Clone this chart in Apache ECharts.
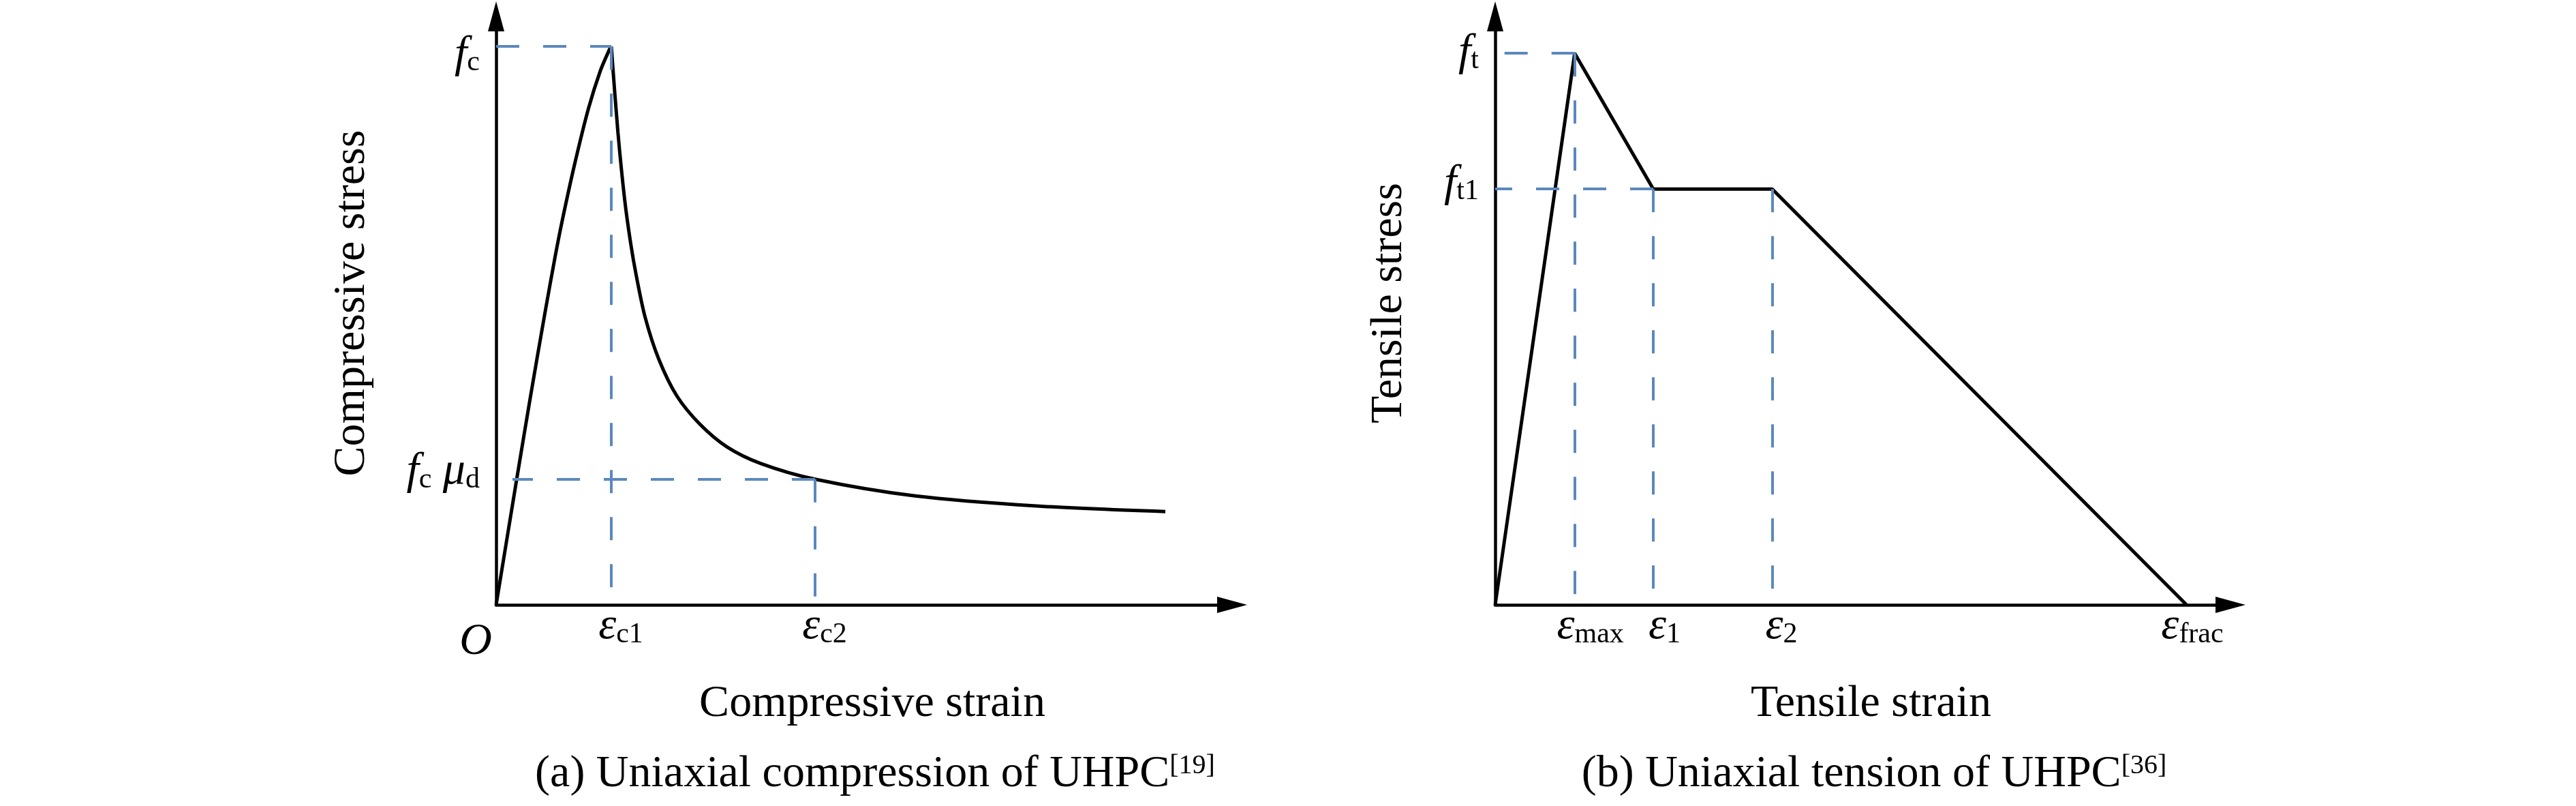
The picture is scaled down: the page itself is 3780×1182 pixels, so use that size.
<!DOCTYPE html>
<html>
<head>
<meta charset="utf-8">
<script src="https://cdn.jsdelivr.net/npm/echarts@6/dist/echarts.min.js"></script>
<style>
html,body{margin:0;padding:0;background:#ffffff;}
#chart{width:3780px;height:1182px;}
</style>
</head>
<body>
<div id="chart"></div>
<script>
// ---------------- data ----------------
// (a) compression: strain in arbitrary units, stress normalised so fc = 100
const compAscX  = [0, 3.02, 5.07, 7.14, 8.65, 9.63, 11.46, 13.53, 15.31, 16.61, 16.9];
const compAscY  = [0, 22.5, 37.5, 52.1, 62.3, 68.4, 78.6, 88.8, 95.7, 99.4, 100];
const compDescX = [16.9, 17.87, 18.87, 19.75, 20.53, 21.87, 23.87, 26.53, 29.87, 33.87, 38.87, 46.8, 61.5, 79.3, 98.2];
const compDescY = [100, 84.7, 72.5, 64.7, 59.2, 51.5, 44.0, 37.4, 32.4, 28.3, 25.3, 22.5, 19.5, 17.7, 16.7];
const compPeak = [16.9, 100];        // (eps_c1, fc)
const compResidual = [46.8, 22.5];   // (eps_c2, fc*mu_d)
const compResidualDashEndX = 2.4;
const compXMax = 108, compYMax = 105.4;
const compXTicks = [0, 16.9, 46.8];
const compXLabelParts = [[['O', '']], [['ε', 'c1']], [['ε', 'c2']]];
const compYTicks = [100, 22.5];
const compYLabelParts = [[['f', 'c']], [['f', 'c'], [' ', ''], ['μ', 'd']]];

// (b) tension: stress normalised so ft = 100
const tensX = [0, 11.67, 23.2, 40.65, 101.45];
const tensY = [0, 100, 75.4, 75.4, 0];
const tensXMax = 107.9, tensYMax = 106.7;
const tensXTicks = [0, 11.67, 23.2, 40.65, 101.45];
const tensXLabelParts = [[['O', '']], [['ε', 'max']], [['ε', '1']], [['ε', '2']], [['ε', 'frac']]];
const tensYTicks = [100, 75.4];
const tensYLabelParts = [[['f', 't']], [['f', 't1']]];

const compXName = 'Compressive strain', compYName = 'Compressive stress';
const tensXName = 'Tensile strain', tensYName = 'Tensile stress';
const compTitle = ['(a) Uniaxial compression of UHPC', '[19]'];
const tensTitle = ['(b) Uniaxial tension of UHPC', '[36]'];

// ---------------- label layout (styling only) ----------------
const compXLabelLayout = [{padR: 60, pre: 23}, {padL: 28}, {padL: 28}];
const tensXLabelLayout = [{padR: 68, pre: 23}, {padL: 46}, {padL: 33}, {padL: 27}, {padL: 17}];
const compYLabelLayout = [{pre: 26}, {post: 20}];
const tensYLabelLayout = [{}, {post: 14}];

const SERIF = '"Liberation Serif","Times New Roman",serif';
const INK = '#000000';
const DASH = '#5b88bd';

// ---------------- helpers ----------------
const zip = (xs, ys) => xs.map((x, i) => [x, ys[i]]);
const rich = {
  it: {fontFamily: SERIF, fontStyle: 'italic', fontSize: 66, lineHeight: 64, verticalAlign: 'bottom', color: INK},
  sb: {fontFamily: SERIF, fontSize: 42, lineHeight: 24, verticalAlign: 'bottom', color: INK}
};
function ensureStyle(name, extra) {
  if (!rich[name]) rich[name] = Object.assign({}, rich.it, extra);
  return name;
}
function ensureSpacer(h) {
  const n = 'sp' + h;
  if (!rich[n]) rich[n] = {fontFamily: SERIF, fontSize: 10, lineHeight: h, color: INK};
  return n;
}
function buildLabel(parts, lay) {
  lay = lay || {};
  let line = '';
  parts.forEach((p, j) => {
    let st = 'it';
    if (j === 0 && lay.padL) st = ensureStyle('itL' + lay.padL, {padding: [0, 0, 0, lay.padL]});
    if (j === parts.length - 1 && lay.padR) st = ensureStyle('itR' + lay.padR, {padding: [0, lay.padR, 0, 0]});
    line += '{' + st + '|' + p[0] + '}';
    if (p[1]) line += '{sb|' + p[1] + '}';
  });
  if (lay.pre) line = '{' + ensureSpacer(lay.pre) + '|\u00a0}\n' + line;
  if (lay.post) line = line + '\n{' + ensureSpacer(lay.post) + '|\u00a0}';
  return line;
}
function makeFormatter(ticks, parts, layout) {
  const strs = ticks.map((t, i) => buildLabel(parts[i], layout[i]));
  return function (value) {
    for (let i = 0; i < ticks.length; i++) {
      if (Math.abs(ticks[i] - value) < 1e-6) return strs[i];
    }
    return '';
  };
}
const fmtCompX = makeFormatter(compXTicks, compXLabelParts, compXLabelLayout);
const fmtTensX = makeFormatter(tensXTicks, tensXLabelParts, tensXLabelLayout);
const fmtCompY = makeFormatter(compYTicks, compYLabelParts, compYLabelLayout);
const fmtTensY = makeFormatter(tensYTicks, tensYLabelParts, tensYLabelLayout);

const axisLineStyle = {
  show: true, onZero: false,
  symbol: ['none', 'triangle'], symbolSize: [24, 44],
  lineStyle: {color: INK, width: 4.5}
};
const nameStyle = {fontFamily: SERIF, fontSize: 66, color: INK};

function xAxisDef(grid, max, name, ticks, fmt) {
  return {
    gridIndex: grid, type: 'value', min: 0, max: max,
    name: name, nameLocation: 'middle', nameGap: 113,
    nameTextStyle: Object.assign({padding: [0, 0, 0, 24]}, nameStyle),
    axisLine: axisLineStyle, axisTick: {show: false}, splitLine: {show: false},
    axisLabel: {show: true, customValues: ticks, formatter: fmt, rich: rich, margin: 1, hideOverlap: false}
  };
}
function yAxisDef(grid, max, name, gap, ticks, fmt) {
  return {
    gridIndex: grid, type: 'value', min: 0, max: max,
    name: name, nameLocation: 'middle', nameGap: gap, nameRotate: 90,
    nameTextStyle: Object.assign({padding: [0, 0, 0, 22]}, nameStyle),
    axisLine: axisLineStyle, axisTick: {show: false}, splitLine: {show: false},
    axisLabel: {show: true, customValues: ticks, formatter: fmt, rich: rich, margin: 24, align: 'right', hideOverlap: false}
  };
}
const dashLine = {color: DASH, width: 4, type: [34, 35]};
function markLines(pairs) {
  return {
    silent: true, symbol: ['none', 'none'], label: {show: false},
    lineStyle: dashLine, emphasis: {disabled: true}, animation: false,
    data: pairs.map(p => [{coord: p[0]}, {coord: p[1]}])
  };
}
const curveStyle = {color: INK, width: 5};
const titleStyle = {
  fontFamily: SERIF, fontSize: 66, fontWeight: 'normal', color: INK,
  rich: {sup: {fontFamily: SERIF, fontSize: 40, lineHeight: 40, verticalAlign: 'top', color: INK}}
};

const option = {
  animation: false,
  backgroundColor: '#ffffff',
  title: [
    {text: compTitle[0] + '{sup|' + compTitle[1] + '}', left: 1279, top: 1098, textAlign: 'center', textStyle: titleStyle},
    {text: tensTitle[0] + '{sup|' + tensTitle[1] + '}', left: 2745, top: 1098, textAlign: 'center', textStyle: titleStyle}
  ],
  grid: [
    {left: 728, top: 24, width: 1080, height: 863, containLabel: false, outerBoundsMode: 'none'},
    {left: 2194, top: 24, width: 1079, height: 863, containLabel: false, outerBoundsMode: 'none'}
  ],
  xAxis: [
    xAxisDef(0, compXMax, compXName, compXTicks, fmtCompX),
    xAxisDef(1, tensXMax, tensXName, tensXTicks, fmtTensX)
  ],
  yAxis: [
    yAxisDef(0, compYMax, compYName, 178, compYTicks, fmtCompY),
    yAxisDef(1, tensYMax, tensYName, 122, tensYTicks, fmtTensY)
  ],
  series: [
    {
      name: 'compression ascending', type: 'line', xAxisIndex: 0, yAxisIndex: 0,
      data: zip(compAscX, compAscY), smooth: 0.3, showSymbol: false, symbol: 'none',
      lineStyle: curveStyle, z: 3,
      markLine: markLines([
        [[0, compPeak[1]], compPeak],
        [compPeak, [compPeak[0], 0]],
        [compResidual, [compResidualDashEndX, compResidual[1]]],
        [compResidual, [compResidual[0], 0]]
      ])
    },
    {
      name: 'compression descending', type: 'line', xAxisIndex: 0, yAxisIndex: 0,
      data: zip(compDescX, compDescY), smooth: 0.3, showSymbol: false, symbol: 'none',
      lineStyle: curveStyle, z: 3
    },
    {
      name: 'tension', type: 'line', xAxisIndex: 1, yAxisIndex: 1,
      data: zip(tensX, tensY), smooth: false, showSymbol: false, symbol: 'none',
      lineStyle: curveStyle, z: 3,
      markLine: markLines([
        [[tensX[1], tensY[1]], [0, tensY[1]]],
        [[tensX[1], tensY[1]], [tensX[1], 0]],
        [[tensX[2], tensY[2]], [0, tensY[2]]],
        [[tensX[2], tensY[2]], [tensX[2], 0]],
        [[tensX[3], tensY[3]], [tensX[3], 0]]
      ])
    }
  ]
};
const chart = echarts.init(document.getElementById('chart'), null, {renderer: 'canvas'});
chart.setOption(option);
</script>
</body>
</html>
